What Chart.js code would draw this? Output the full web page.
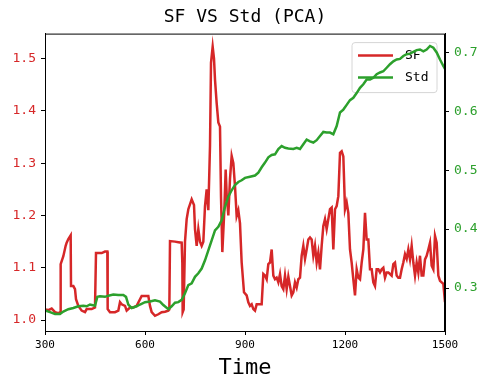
<!DOCTYPE html>
<html>
<head>
<meta charset="utf-8">
<script src="https://cdn.jsdelivr.net/npm/chart.js@4"></script>
<style>
  html, body { margin: 0; padding: 0; background: #fff; }
  canvas { display: block; }
</style>
</head>
<body>
<canvas id="sfStd" width="490" height="390"></canvas>
<script>
// chart data
const sfTime = [300,310,320,330,340,345,347,355,362,365,370,377,378,385,390,393,400,410,420,425,440,450,453,470,480,487,488,495,510,520,525,530,540,545,555,565,575,590,600,610,615,620,630,640,650,660,670,673,675,690,700,710,712,713,716,720,725,730,740,747,750,755,760,765,770,775,780,785,790,795,798,803,807,810,815,820,825,828,832,838,842,845,850,855,860,865,870,875,880,885,890,897,905,910,915,920,925,930,935,945,950,955,960,965,970,975,980,985,990,995,1000,1005,1010,1015,1020,1025,1030,1035,1040,1045,1050,1055,1060,1065,1070,1075,1080,1085,1090,1095,1100,1105,1110,1115,1120,1125,1130,1135,1140,1145,1150,1155,1160,1165,1170,1175,1180,1185,1190,1195,1200,1205,1210,1215,1220,1225,1230,1235,1240,1245,1250,1255,1260,1265,1270,1275,1280,1285,1290,1295,1300,1305,1310,1315,1320,1325,1330,1335,1340,1345,1350,1355,1360,1365,1370,1375,1380,1385,1390,1395,1400,1405,1410,1415,1420,1425,1430,1435,1440,1445,1450,1455,1460,1465,1470,1475,1480,1485,1490,1495,1500];
const sfValues = [1.020,1.019,1.022,1.015,1.013,1.015,1.107,1.122,1.142,1.148,1.155,1.162,1.065,1.065,1.059,1.040,1.027,1.018,1.015,1.021,1.021,1.024,1.128,1.128,1.131,1.131,1.021,1.015,1.015,1.018,1.034,1.030,1.027,1.018,1.024,1.024,1.027,1.046,1.046,1.046,1.027,1.015,1.008,1.011,1.015,1.016,1.018,1.020,1.151,1.150,1.149,1.148,1.109,1.015,1.020,1.150,1.193,1.212,1.231,1.220,1.174,1.142,1.174,1.150,1.142,1.150,1.218,1.250,1.210,1.333,1.492,1.523,1.500,1.460,1.415,1.378,1.370,1.237,1.130,1.210,1.288,1.240,1.200,1.270,1.314,1.300,1.256,1.199,1.210,1.185,1.110,1.053,1.047,1.034,1.027,1.030,1.021,1.018,1.030,1.030,1.030,1.088,1.085,1.078,1.107,1.110,1.135,1.085,1.078,1.081,1.072,1.088,1.065,1.059,1.085,1.059,1.083,1.065,1.047,1.053,1.072,1.062,1.078,1.081,1.123,1.142,1.117,1.135,1.154,1.158,1.154,1.123,1.142,1.110,1.129,1.097,1.142,1.180,1.193,1.174,1.193,1.212,1.215,1.135,1.212,1.218,1.237,1.320,1.323,1.313,1.212,1.225,1.205,1.135,1.110,1.078,1.047,1.097,1.081,1.078,1.110,1.135,1.205,1.154,1.154,1.097,1.097,1.072,1.065,1.097,1.097,1.091,1.097,1.100,1.081,1.091,1.091,1.088,1.085,1.107,1.110,1.085,1.081,1.081,1.097,1.110,1.126,1.117,1.135,1.116,1.142,1.110,1.085,1.110,1.091,1.123,1.085,1.085,1.116,1.123,1.135,1.148,1.104,1.097,1.161,1.148,1.085,1.075,1.072,1.069,1.034];

const stdTime = [300,315,330,345,355,370,385,400,415,425,435,450,457,465,480,490,505,520,535,543,550,560,575,585,600,615,630,645,655,670,680,690,700,710,720,730,740,750,760,770,780,790,800,810,820,830,840,850,860,870,880,890,900,915,930,940,950,960,970,980,990,1000,1010,1020,1030,1045,1055,1065,1075,1085,1095,1105,1115,1125,1135,1145,1155,1165,1175,1185,1195,1205,1215,1225,1235,1245,1255,1265,1275,1285,1295,1305,1315,1325,1335,1345,1355,1365,1375,1385,1395,1405,1415,1425,1435,1445,1455,1465,1475,1485,1495,1500];
const stdValues = [0.262,0.259,0.256,0.256,0.260,0.264,0.266,0.269,0.270,0.269,0.272,0.270,0.285,0.286,0.285,0.287,0.289,0.288,0.288,0.285,0.272,0.266,0.269,0.272,0.276,0.277,0.279,0.277,0.271,0.264,0.269,0.275,0.276,0.280,0.291,0.305,0.308,0.319,0.325,0.333,0.347,0.364,0.381,0.398,0.404,0.415,0.438,0.455,0.466,0.475,0.480,0.483,0.487,0.489,0.491,0.496,0.505,0.513,0.522,0.526,0.527,0.536,0.541,0.538,0.537,0.536,0.538,0.536,0.544,0.552,0.549,0.547,0.551,0.558,0.565,0.564,0.564,0.561,0.575,0.598,0.603,0.611,0.619,0.623,0.631,0.640,0.646,0.654,0.654,0.657,0.663,0.666,0.668,0.674,0.680,0.685,0.688,0.689,0.694,0.697,0.698,0.701,0.704,0.705,0.702,0.705,0.711,0.708,0.700,0.688,0.677,0.672];

const timeTicks = [300, 600, 900, 1200, 1500];
const sfTicks = [1.0, 1.1, 1.2, 1.3, 1.4, 1.5];
const stdTicks = [0.3, 0.4, 0.5, 0.6, 0.7];

const RED = '#d62728';
const GREEN = '#2ca02c';
const FONT = "'DejaVu Sans Mono', monospace";

const toPoints = (xs, ys) => xs.map((x, i) => ({ x: x, y: ys[i] }));

// legend drawn right after the red line so the green line sits on top of it
const legendPlugin = {
  id: 'innerLegend',
  afterDatasetDraw(chart, args) {
    if (args.index !== 0) return;
    const ctx = chart.ctx;
    const area = chart.chartArea;
    const w = 85, h = 50;
    const x = area.right - 8 - w, y = area.top + 9;
    ctx.save();
    ctx.beginPath();
    ctx.roundRect(x, y, w, h, 3);
    ctx.fillStyle = 'rgba(255,255,255,0.8)';
    ctx.fill();
    ctx.strokeStyle = '#d6d6d6';
    ctx.lineWidth = 1;
    ctx.stroke();
    ctx.font = '13px ' + FONT;
    ctx.textBaseline = 'middle';
    chart.data.datasets.forEach((ds, i) => {
      const ly = y + 13 + i * 22;
      ctx.strokeStyle = ds.borderColor;
      ctx.lineWidth = 2.5;
      ctx.beginPath();
      ctx.moveTo(x + 6, ly);
      ctx.lineTo(x + 41, ly);
      ctx.stroke();
      ctx.fillStyle = '#000';
      ctx.fillText(ds.label, x + 53, ly);
    });
    ctx.restore();
  },
  afterDraw(chart) {
    const a = chart.chartArea;
    const ctx = chart.ctx;
    ctx.save();
    ctx.strokeStyle = '#000';
    ctx.lineWidth = 1;
    ctx.strokeRect(a.left + 0.5, a.top + 0.5, a.right - a.left - 1, a.bottom - a.top);
    ctx.restore();
  }
};

const ctx = document.getElementById('sfStd').getContext('2d');

new Chart(ctx, {
  type: 'line',
  data: {
    datasets: [{
      label: 'SF',
      data: toPoints(sfTime, sfValues),
      borderColor: RED,
      borderWidth: 2.5,
      pointRadius: 0,
      fill: false,
      yAxisID: 'ySF',
      order: 2
    }, {
      label: 'Std',
      data: toPoints(stdTime, stdValues),
      borderColor: GREEN,
      borderWidth: 2.5,
      pointRadius: 0,
      fill: false,
      yAxisID: 'yStd',
      order: 1
    }]
  },
  options: {
    responsive: false,
    animation: false,
    layout: { padding: 0 },
    plugins: {
      legend: { display: false },
      tooltip: { enabled: false },
      title: {
        display: true,
        text: 'SF VS Std (PCA)',
        color: '#000',
        font: { family: FONT, size: 18, weight: 'normal' },
        padding: { top: 7, bottom: 5 }
      }
    },
    scales: {
      x: {
        type: 'linear',
        min: 300,
        max: 1500,
        afterBuildTicks: s => { s.ticks = timeTicks.map(v => ({ value: v })); },
        afterFit: s => { s.height = 59; },
        grid: { drawOnChartArea: false, drawTicks: true, tickLength: 4, color: '#000' },
        border: { display: true, color: '#000' },
        ticks: { color: '#000', font: { family: FONT, size: 11 }, padding: 4, maxRotation: 0, callback: v => String(v) },
        title: {
          display: true,
          text: 'Time',
          color: '#000',
          font: { family: FONT, size: 22 },
          padding: { top: 0, bottom: 9 }
        }
      },
      ySF: {
        type: 'linear',
        position: 'left',
        min: 0.979,
        max: 1.548,
        afterBuildTicks: s => { s.ticks = sfTicks.map(v => ({ value: v })); },
        afterFit: s => { s.width = 45; },
        grid: { drawOnChartArea: false, drawTicks: true, tickLength: 4, color: '#000' },
        border: { display: true, color: '#000' },
        ticks: { color: RED, font: { family: FONT, size: 13 }, padding: 5, callback: v => v.toFixed(1) }
      },
      yStd: {
        type: 'linear',
        position: 'right',
        min: 0.227,
        max: 0.732,
        afterBuildTicks: s => { s.ticks = stdTicks.map(v => ({ value: v })); },
        afterFit: s => { s.width = 45; },
        grid: { drawOnChartArea: false, drawTicks: true, tickLength: 4, color: '#000' },
        border: { display: true, color: '#000' },
        ticks: { color: GREEN, font: { family: FONT, size: 13 }, padding: 5, callback: v => v.toFixed(1) }
      }
    }
  },
  plugins: [legendPlugin]
});
</script>
</body>
</html>
